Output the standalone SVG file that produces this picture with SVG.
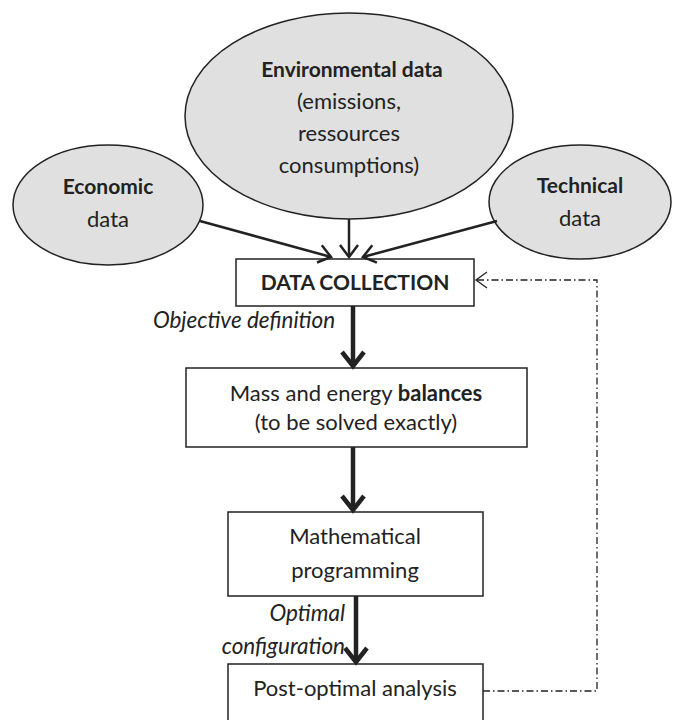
<svg xmlns="http://www.w3.org/2000/svg" width="675" height="720" viewBox="0 0 675 720">
<style>
text{font-family:Lato,"Liberation Sans",sans-serif;fill:#222;text-anchor:middle;font-size:22px}
.b{font-weight:bold;font-size:21px}
tspan.b{font-size:22px}
.i{font-style:italic;font-size:22.5px}
.ell{fill:#e0e0e0;stroke:#222;stroke-width:1.5}
.box{fill:#fff;stroke:#222;stroke-width:1.5}
.thin{stroke:#222;stroke-width:2.5;fill:none}
.thick{stroke:#222;stroke-width:4.5;fill:none}
.dd{stroke:#222;stroke-width:1.3;fill:none;stroke-dasharray:7 3 1.5 3}
</style>
<defs>
<marker id="ah" markerUnits="userSpaceOnUse" markerWidth="24" markerHeight="24" refX="12" refY="12" orient="auto" overflow="visible">
<polyline points="0,3 12,12 0,21" fill="none" stroke="#222" stroke-width="2.5"/>
</marker>
<marker id="ahk" markerUnits="userSpaceOnUse" markerWidth="30" markerHeight="30" refX="15" refY="15" orient="auto" overflow="visible">
<polyline points="1,4 15,15 1,26" fill="none" stroke="#222" stroke-width="4.5"/>
</marker>
<marker id="ahd" markerUnits="userSpaceOnUse" markerWidth="24" markerHeight="24" refX="12" refY="12" orient="auto" overflow="visible">
<polyline points="1,4 12,12 1,20" fill="none" stroke="#222" stroke-width="1.3"/>
</marker>
</defs>
<g id="env"><ellipse class="ell" cx="349" cy="116" rx="164" ry="103"/>
<text class="b" x="352" y="77">Environmental data</text>
<text x="349" y="109">(emissions,</text>
<text x="349" y="141">ressources</text>
<text x="349" y="173">consumptions)</text></g>
<g id="eco"><ellipse class="ell" cx="108" cy="205" rx="95" ry="60"/>
<text class="b" x="108" y="194">Economic</text>
<text x="108" y="227">data</text></g>
<g id="tech"><ellipse class="ell" cx="580" cy="202" rx="91" ry="57"/>
<text class="b" x="580" y="193">Technical</text>
<text x="580" y="226">data</text></g>
<g id="dc"><rect class="box" x="236" y="259" width="238" height="47"/>
<text class="b" x="355" y="290">DATA COLLECTION</text></g>
<g id="mass"><rect class="box" x="186" y="368" width="341" height="79"/>
<text x="356" y="401">Mass and energy <tspan class="b">balances</tspan></text>
<text x="356" y="430">(to be solved exactly)</text></g>
<g id="math"><rect class="box" x="228" y="512" width="255" height="84"/>
<text x="355" y="544">Mathematical</text>
<text x="355" y="578">programming</text></g>
<g id="post"><rect class="box" x="228" y="664" width="255" height="70"/>
<text x="355" y="696">Post-optimal analysis</text></g>
<g id="connectors">
<line class="thin" x1="200" y1="221" x2="331" y2="257" marker-end="url(#ah)"/>
<line class="thin" x1="349" y1="219" x2="349" y2="257" marker-end="url(#ah)"/>
<line class="thin" x1="497" y1="221" x2="363" y2="257" marker-end="url(#ah)"/>
<line class="thick" x1="353" y1="306" x2="353" y2="366" marker-end="url(#ahk)"/>
<line class="thick" x1="353" y1="447" x2="353" y2="510" marker-end="url(#ahk)"/>
<line class="thick" x1="356" y1="596" x2="356" y2="662" marker-end="url(#ahk)"/>
<polyline class="dd" points="483,691 597,691 597,280 476,280" marker-end="url(#ahd)"/>
<text class="i" x="244" y="328">Objective definition</text>
<text class="i" x="345" y="621" style="text-anchor:end">Optimal</text>
<text class="i" x="345" y="654" style="text-anchor:end">configuration</text>
</g>
</svg>
